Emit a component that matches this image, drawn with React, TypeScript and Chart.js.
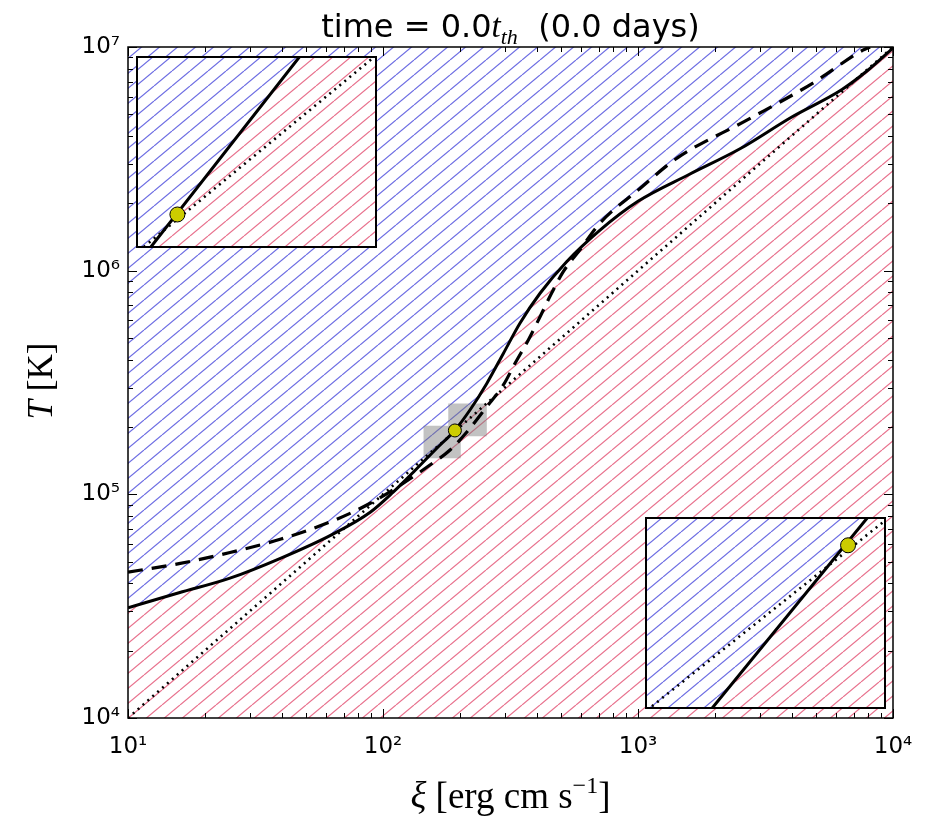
import React, { useEffect, useRef } from "react";
import { Chart, registerables } from "chart.js";

Chart.register(...registerables);

// ---------------- data ----------------
const xiSolid = [10, 15.85, 25.12, 39.81, 63.1, 89.1, 109.6, 131.8, 162.2, 191.4, 219.3, 255.3, 296.5, 344.4, 413.0, 524.8, 707.9, 1000, 1585, 2512, 3981, 6310, 7943, 10000];
const tSolid = [31100, 36300, 42200, 51900, 66100, 83200, 102300, 125900, 160300, 193600, 238200, 313300, 426600, 582100, 792500, 1096000, 1514000, 2042000, 2692000, 3508000, 4842000, 6457000, 7850000, 9900000];

const xiDashed = [10, 15.85, 25.12, 39.81, 63.1, 89.1, 120.2, 152.8, 183.2, 216.3, 255.3, 296.5, 329.6, 371.5, 413.0, 458.1, 509.3, 588.8, 709.6, 1000, 1422, 2673, 4853, 7621, 8128];
const tDashed = [44870, 48980, 54950, 63100, 75860, 91200, 112200, 135200, 157800, 193600, 246600, 308300, 385500, 489800, 622300, 792500, 990000, 1230000, 1633000, 2291000, 3184000, 4710000, 6902000, 9683000, 10000000];

const xiDotted = [10, 10000];
const tDotted = [10000, 10000000];

const xiPoint = [191.4];
const tPoint = [193000];

// zoom boxes (gray squares on the main plot = ranges of the insets)
const boxXiMin = [180.3, 144.2];
const boxXiMax = [255.3, 201.8];
const boxTMin = [182000, 144900];
const boxTMax = [254700, 202800];

// inset solid-curve segments
const inset1Xi = [125.9, 184.0, 228.5, 316.2];
const inset1T = [100900, 182000, 254700, 422500];
const inset2Xi = [125.9, 158.2, 196.8, 251.2];
const inset2T = [101900, 144900, 202800, 295800];
const insetDotXi = [100, 300];
const insetDotT = [100000, 300000];

const xTickValues = [10, 100, 1000, 10000];
const xTickLabels = ["10\u00B9", "10\u00B2", "10\u00B3", "10\u2074"];
const yTickValues = [10000, 100000, 1000000, 10000000];
const yTickLabels = ["10\u2074", "10\u2075", "10\u2076", "10\u2077"];
const minorMultipliers = [2, 3, 4, 5, 6, 7, 8, 9];

const BLUE = "#6c6ce2";
const RED = "#e8708c";

// ---------------- helpers ----------------
function hatch(ctx: CanvasRenderingContext2D, color: string): CanvasPattern {
  const W = 18, H = 15;
  const c = document.createElement("canvas");
  c.width = W;
  c.height = H;
  const g = c.getContext("2d")!;
  g.strokeStyle = color;
  g.lineWidth = 1.2;
  for (const k of [-1, 0, 1]) {
    g.beginPath();
    g.moveTo(k * W, H);
    g.lineTo(k * W + W, 0);
    g.stroke();
  }
  return ctx.createPattern(c, "repeat")!;
}

const pts = (xs: number[], ys: number[]) => xs.map((x, i) => ({ x, y: ys[i] }));

type Seg = { t: string; f: string; dy?: number };
function drawRich(ctx: CanvasRenderingContext2D, segs: Seg[], cx: number, y: number) {
  let w = 0;
  for (const s of segs) {
    ctx.font = s.f;
    w += ctx.measureText(s.t).width;
  }
  let x = cx - w / 2;
  ctx.textAlign = "left";
  ctx.textBaseline = "alphabetic";
  ctx.fillStyle = "#000";
  for (const s of segs) {
    ctx.font = s.f;
    ctx.fillText(s.t, x, y + (s.dy || 0));
    x += ctx.measureText(s.t).width;
  }
}

function decadeMinors(decades: number[]) {
  const out: number[] = [];
  for (const d of decades) for (const m of minorMultipliers) out.push(d * m);
  return out;
}

// ---------------- main chart ----------------
function makeMain(canvas: HTMLCanvasElement) {
  const ctx = canvas.getContext("2d")!;
  const blue = hatch(ctx, BLUE);
  const red = hatch(ctx, RED);
  const solid = pts(xiSolid, tSolid);
  const DOTTED_INDEX = 3;

  const decor = {
    id: "decor",
    beforeDatasetDraw(chart: any, args: any) {
      if (args.index !== DOTTED_INDEX) return;
      const c = chart.ctx;
      const xs = chart.scales.x, ys = chart.scales.y;
      c.save();
      c.beginPath();
      for (let i = 0; i < boxXiMin.length; i++) {
        const x0 = xs.getPixelForValue(boxXiMin[i]);
        const x1 = xs.getPixelForValue(boxXiMax[i]);
        const y0 = ys.getPixelForValue(boxTMax[i]);
        const y1 = ys.getPixelForValue(boxTMin[i]);
        c.rect(x0, y0, x1 - x0, y1 - y0);
      }
      c.fillStyle = "rgba(120,120,120,0.45)";
      c.fill("nonzero");
      c.restore();
    },
    afterDatasetsDraw(chart: any) {
      const c = chart.ctx;
      const { left, right, top, bottom } = chart.chartArea;
      const xs = chart.scales.x, ys = chart.scales.y;
      c.save();
      c.strokeStyle = "#000";
      c.lineWidth = 1;
      const xMinor = decadeMinors([10, 100, 1000]);
      const yMinor = decadeMinors([10000, 100000, 1000000]);
      const tickX = (v: number, len: number) => {
        const p = Math.round(xs.getPixelForValue(v)) + 0.5;
        c.beginPath();
        c.moveTo(p, bottom); c.lineTo(p, bottom - len);
        c.moveTo(p, top); c.lineTo(p, top + len);
        c.stroke();
      };
      const tickY = (v: number, len: number) => {
        const p = Math.round(ys.getPixelForValue(v)) + 0.5;
        c.beginPath();
        c.moveTo(left, p); c.lineTo(left + len, p);
        c.moveTo(right, p); c.lineTo(right - len, p);
        c.stroke();
      };
      xTickValues.forEach((v) => tickX(v, 9));
      xMinor.forEach((v) => tickX(v, 5));
      yTickValues.forEach((v) => tickY(v, 9));
      yMinor.forEach((v) => tickY(v, 5));
      c.lineWidth = 1.5;
      c.strokeRect(left, top, right - left, bottom - top);
      c.restore();
    },
    afterDraw(chart: any) {
      const c = chart.ctx;
      const { left, right } = chart.chartArea;
      const cx = (left + right) / 2;
      c.save();
      drawRich(c, [
        { t: "time = 0.0", f: '32px "DejaVu Sans"' },
        { t: "t", f: 'italic 33px "Liberation Serif"' },
        { t: "th", f: 'italic 22px "Liberation Serif"', dy: 7 },
        { t: "  (0.0 days)", f: '32px "DejaVu Sans"' },
      ], cx, 37);
      drawRich(c, [
        { t: "\u03BE", f: 'italic 37px "Liberation Serif"' },
        { t: " [erg cm s", f: '37px "Liberation Serif"' },
        { t: "\u22121", f: '24px "Liberation Serif"', dy: -15 },
        { t: "]", f: '37px "Liberation Serif"' },
      ], cx, 808);
      c.translate(40, 381);
      c.rotate(-Math.PI / 2);
      drawRich(c, [
        { t: "T", f: 'italic 35px "Liberation Serif"' },
        { t: " [K]", f: '35px "Liberation Serif"' },
      ], 0, 12);
      c.restore();
    },
  };

  return new Chart(ctx, {
    type: "line",
    data: {
      datasets: [
        {
          data: pts(xiPoint, tPoint),
          showLine: false,
          pointRadius: 6.5,
          pointBackgroundColor: "#cccc00",
          pointBorderColor: "#000",
          pointBorderWidth: 1,
          order: 0,
        },
        {
          data: solid,
          borderColor: "#000",
          borderWidth: 3,
          pointRadius: 0,
          cubicInterpolationMode: "monotone",
          fill: false,
          order: 1,
        },
        {
          data: pts(xiDashed, tDashed),
          borderColor: "#000",
          borderWidth: 3.2,
          borderDash: [15, 9],
          pointRadius: 0,
          cubicInterpolationMode: "monotone",
          fill: false,
          order: 2,
        },
        {
          data: pts(xiDotted, tDotted),
          borderColor: "#000",
          borderWidth: 2.6,
          borderDash: [2, 4.5],
          pointRadius: 0,
          fill: false,
          order: 3,
        },
        {
          data: solid,
          borderColor: "rgba(0,0,0,0)",
          borderWidth: 1,
          pointRadius: 0,
          cubicInterpolationMode: "monotone",
          fill: "end",
          backgroundColor: blue,
          order: 10,
        },
        {
          data: solid,
          borderColor: "rgba(0,0,0,0)",
          borderWidth: 1,
          pointRadius: 0,
          cubicInterpolationMode: "monotone",
          fill: "start",
          backgroundColor: red,
          order: 11,
        },
      ],
    } as any,
    options: {
      responsive: false,
      animation: false,
      devicePixelRatio: 1,
      events: [],
      layout: { autoPadding: false, padding: { left: 0, right: 37, top: 47, bottom: 0 } },
      plugins: { legend: { display: false }, tooltip: { enabled: false }, title: { display: false } },
      scales: {
        x: {
          type: "logarithmic",
          min: 10,
          max: 10000,
          grid: { display: false, drawTicks: false },
          border: { display: false },
          afterBuildTicks: (s: any) => {
            s.ticks = xTickValues.map((v) => ({ value: v }));
          },
          afterFit: (s: any) => {
            s.height = 100;
          },
          ticks: {
            autoSkip: false,
            maxRotation: 0,
            padding: 15,
            color: "#000",
            font: { family: "DejaVu Sans", size: 23 },
            callback: (v: any) => xTickLabels[xTickValues.indexOf(Number(v))] ?? "",
          },
        },
        y: {
          type: "logarithmic",
          min: 10000,
          max: 10000000,
          grid: { display: false, drawTicks: false },
          border: { display: false },
          afterBuildTicks: (s: any) => {
            s.ticks = yTickValues.map((v) => ({ value: v }));
          },
          afterFit: (s: any) => {
            s.width = 128;
          },
          ticks: {
            autoSkip: false,
            padding: 8,
            color: "#000",
            font: { family: "DejaVu Sans", size: 23 },
            callback: (v: any) => yTickLabels[yTickValues.indexOf(Number(v))] ?? "",
          },
        },
      },
    } as any,
    plugins: [decor],
  });
}

// ---------------- inset charts ----------------
function makeInset(canvas: HTMLCanvasElement, box: number, xs: number[], ts: number[]) {
  const ctx = canvas.getContext("2d")!;
  const blue = hatch(ctx, BLUE);
  const red = hatch(ctx, RED);
  const line = pts(xs, ts);
  const frame = {
    id: "frame",
    beforeDraw(chart: any) {
      const c = chart.ctx;
      c.save();
      c.fillStyle = "#fff";
      c.fillRect(0, 0, chart.width, chart.height);
      c.restore();
    },
    afterDraw(chart: any) {
      const c = chart.ctx;
      c.save();
      c.strokeStyle = "#000";
      c.lineWidth = 2;
      c.strokeRect(1, 1, chart.width - 2, chart.height - 2);
      c.restore();
    },
  };
  return new Chart(ctx, {
    type: "line",
    data: {
      datasets: [
        {
          data: pts(xiPoint, tPoint),
          showLine: false,
          pointRadius: 7.5,
          pointBackgroundColor: "#cccc00",
          pointBorderColor: "#000",
          pointBorderWidth: 1,
          order: 0,
        },
        { data: line, borderColor: "#000", borderWidth: 3, pointRadius: 0, fill: false, order: 1 },
        {
          data: pts(insetDotXi, insetDotT),
          borderColor: "#000",
          borderWidth: 2.6,
          borderDash: [2, 4.5],
          pointRadius: 0,
          fill: false,
          order: 3,
        },
        { data: line, borderColor: "rgba(0,0,0,0)", borderWidth: 1, pointRadius: 0, fill: "end", backgroundColor: blue, order: 10 },
        { data: line, borderColor: "rgba(0,0,0,0)", borderWidth: 1, pointRadius: 0, fill: "start", backgroundColor: red, order: 11 },
      ],
    } as any,
    options: {
      responsive: false,
      animation: false,
      devicePixelRatio: 1,
      events: [],
      layout: { autoPadding: false, padding: 0 },
      plugins: { legend: { display: false }, tooltip: { enabled: false } },
      scales: {
        x: { type: "logarithmic", min: boxXiMin[box], max: boxXiMax[box], display: false },
        y: { type: "logarithmic", min: boxTMin[box], max: boxTMax[box], display: false },
      },
    } as any,
    plugins: [frame],
  });
}

export default function App() {
  const mainRef = useRef<HTMLCanvasElement>(null);
  const in1Ref = useRef<HTMLCanvasElement>(null);
  const in2Ref = useRef<HTMLCanvasElement>(null);

  useEffect(() => {
    const charts = [
      makeMain(mainRef.current!),
      makeInset(in1Ref.current!, 0, inset1Xi, inset1T),
      makeInset(in2Ref.current!, 1, inset2Xi, inset2T),
    ];
    return () => charts.forEach((c) => c.destroy());
  }, []);

  return (
    <div style={{ position: "absolute", left: 0, top: 0, width: 930, height: 818, background: "#fff" }}>
      <canvas ref={mainRef} width={930} height={818} style={{ position: "absolute", left: 0, top: 0, width: 930, height: 818 }} />
      <canvas ref={in1Ref} width={241} height={192} style={{ position: "absolute", left: 136, top: 56, width: 241, height: 192 }} />
      <canvas ref={in2Ref} width={241} height={192} style={{ position: "absolute", left: 645, top: 517, width: 241, height: 192 }} />
    </div>
  );
}
